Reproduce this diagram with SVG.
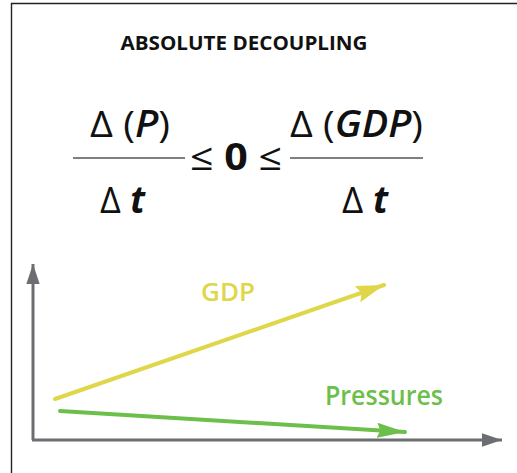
<svg xmlns="http://www.w3.org/2000/svg" width="517" height="473" viewBox="0 0 517 473">
<style>
.t{font-family:"Open Sans","Liberation Sans",sans-serif;fill:#111}
.ax{stroke:#6d6e71;stroke-width:3;fill:none}
.fl{stroke:#555;stroke-width:1.5}
</style>
<defs>
<marker id="ag" markerUnits="userSpaceOnUse" markerWidth="20" markerHeight="14" refX="18" refY="6" orient="auto" viewBox="0 0 18 12"><path d="M0,0 L18,6 L0,12 Z" fill="#6d6e71"/></marker>
<marker id="ay" markerUnits="userSpaceOnUse" markerWidth="28" markerHeight="20" refX="26" refY="8" orient="auto" viewBox="0 0 26 16"><path d="M0,0 L26,8 L0,16 L4,8 Z" fill="#dfd64a"/></marker>
<marker id="agr" markerUnits="userSpaceOnUse" markerWidth="28" markerHeight="18" refX="26" refY="7" orient="auto" viewBox="0 0 26 14"><path d="M0,0 L26,7 L0,14 L3,7 Z" fill="#6bbf4a"/></marker>
</defs>
<rect width="517" height="473" fill="#fff"/>
<path d="M11.5,473 V3.5 H517" fill="none" stroke="#222" stroke-width="1.4"/>
<text class="t" x="244" y="50" font-size="19" font-weight="700" text-anchor="middle" textLength="247" lengthAdjust="spacingAndGlyphs">ABSOLUTE DECOUPLING</text>
<g id="equation">
<text class="t" x="90" y="137" font-size="37" textLength="80" lengthAdjust="spacingAndGlyphs"><tspan>Δ (</tspan><tspan font-style="italic" font-weight="600">P</tspan><tspan>)</tspan></text>
<line class="fl" x1="73" y1="158" x2="185" y2="158"/>
<text class="t" x="100" y="213" font-size="37" textLength="45" lengthAdjust="spacingAndGlyphs"><tspan>Δ </tspan><tspan font-style="italic" font-weight="700">t</tspan></text>
<text class="t" x="190" y="170" font-size="37" textLength="92" lengthAdjust="spacingAndGlyphs"><tspan>≤ </tspan><tspan font-weight="700">0</tspan><tspan> ≤</tspan></text>
<line class="fl" x1="290" y1="158" x2="423" y2="158"/>
<text class="t" x="290" y="137" font-size="37" textLength="133" lengthAdjust="spacingAndGlyphs"><tspan>Δ (</tspan><tspan font-style="italic" font-weight="600">GDP</tspan><tspan>)</tspan></text>
<text class="t" x="342" y="213" font-size="37" textLength="46" lengthAdjust="spacingAndGlyphs"><tspan>Δ </tspan><tspan font-style="italic" font-weight="700">t</tspan></text>
</g>
<g id="connectors">
<path class="ax" d="M33,440 V264" marker-end="url(#ag)"/>
<path class="ax" d="M32,440 H502" marker-end="url(#ag)"/>
<path d="M55,399 L384,285" stroke="#dfd64a" stroke-width="4" stroke-linecap="round" fill="none" marker-end="url(#ay)"/>
<path d="M60,411 L405,432" stroke="#6bbf4a" stroke-width="4" stroke-linecap="round" fill="none" marker-end="url(#agr)"/>
</g>
<g id="gdp-label"><text x="228" y="301" font-family="Open Sans, sans-serif" font-size="26" font-weight="600" fill="#dfd64a" text-anchor="middle">GDP</text></g>
<g id="pressures-label"><text x="384" y="405" font-family="Open Sans, sans-serif" font-size="27" font-weight="600" fill="#6bbf4a" text-anchor="middle" textLength="118" lengthAdjust="spacingAndGlyphs">Pressures</text></g>
</svg>
